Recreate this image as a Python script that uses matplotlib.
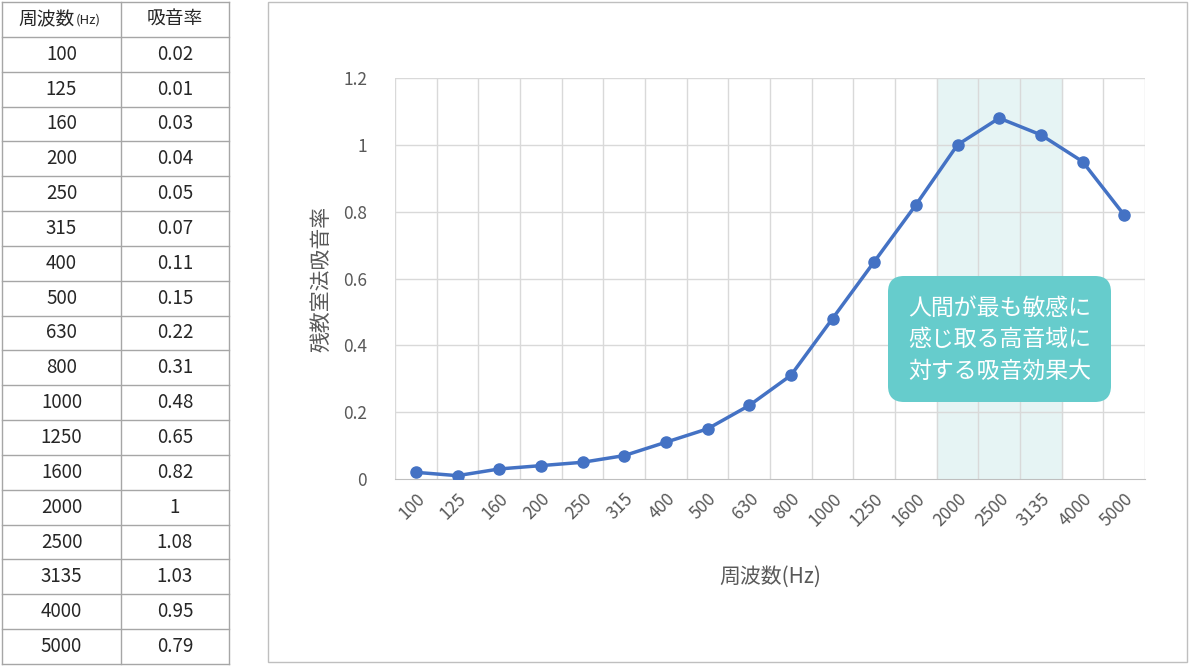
import matplotlib.pyplot as plt
from matplotlib.patches import FancyBboxPatch, Rectangle
import numpy as np

plt.rcParams['font.family'] = ['Noto Sans CJK JP', 'DejaVu Sans']

freqs = ['100', '125', '160', '200', '250', '315', '400', '500', '630', '800',
         '1000', '1250', '1600', '2000', '2500', '3135', '4000', '5000']
absorb = [0.02, 0.01, 0.03, 0.04, 0.05, 0.07, 0.11, 0.15, 0.22, 0.31,
          0.48, 0.65, 0.82, 1.0, 1.08, 1.03, 0.95, 0.79]
absorb_txt = ['0.02', '0.01', '0.03', '0.04', '0.05', '0.07', '0.11', '0.15', '0.22', '0.31',
              '0.48', '0.65', '0.82', '1', '1.08', '1.03', '0.95', '0.79']
yticks = [0, 0.2, 0.4, 0.6, 0.8, 1, 1.2]
ytick_labels = ['0', '0.2', '0.4', '0.6', '0.8', '1', '1.2']
highlight = ['2000', '2500', '3135']
note = '人間が最も敏感に\n感じ取る高音域に\n対する吸音効果大'

W, H = 1200, 670
fig = plt.figure(figsize=(12, 6.7), dpi=100)

#background layer in pixel coordinates for the table and panel border
bg = fig.add_axes([0, 0, 1, 1])
bg.set_xlim(0, W)
bg.set_ylim(H, 0)
bg.axis('off')

#table
tx0, tx1, tx2 = 2, 121, 229
ty0, ty1 = 2, 664
nrows = len(freqs) + 1
rh = (ty1 - ty0) / nrows
grey = '#a6a6a6'
for i in range(nrows + 1):
    bg.plot([tx0, tx2], [ty0 + i * rh] * 2, color=grey, lw=1)
for x in (tx0, tx1, tx2):
    bg.plot([x, x], [ty0, ty1], color=grey, lw=1)
tc = '#262626'
bg.text(tx0 + 16, ty0 + rh / 2, '周波数', ha='left', va='center', fontsize=13.5, color=tc)
bg.text(tx0 + 74, ty0 + rh / 2 + 1, '(Hz)', ha='left', va='center', fontsize=9.5, color=tc)
bg.text((tx1 + tx2) / 2, ty0 + rh / 2, '吸音率', ha='center', va='center', fontsize=13.5, color=tc)
for i, (f, a) in enumerate(zip(freqs, absorb_txt)):
    yc = ty0 + (i + 1.5) * rh
    bg.text((tx0 + tx1) / 2, yc, f, ha='center', va='center', fontsize=13.5, color=tc)
    bg.text((tx1 + tx2) / 2, yc, a, ha='center', va='center', fontsize=13.5, color=tc)

#chart panel border
bg.add_patch(Rectangle((268, 2), 919, 660, fill=False, ec='#bfbfbf', lw=1))

#chart
ax = fig.add_axes([395 / W, 1 - 479 / H, 750 / W, 401 / H])
x = np.arange(len(freqs))
gc = '#d9d9d9'
ax.axvspan(freqs.index(highlight[0]) - 0.5, freqs.index(highlight[-1]) + 0.5,
           color='#e6f4f4', zorder=0)
for b in np.arange(-0.5, len(freqs), 1):
    ax.axvline(b, color=gc, lw=1, zorder=1)
for yv in yticks[1:]:
    ax.axhline(yv, color=gc, lw=1, zorder=1)
ax.plot(x, absorb, color='#4472c4', lw=2.5, marker='o', ms=8, zorder=3)

ax.set_xlim(-0.5, len(freqs) - 0.5)
ax.set_ylim(0, 1.2)
for s in ('top', 'right', 'left'):
    ax.spines[s].set_visible(False)
ax.spines['bottom'].set_color('#bfbfbf')
ax.set_facecolor('none')
ax.set_xticks(x)
ax.set_xticklabels(freqs, rotation=45, ha='right', rotation_mode='anchor')
ax.set_yticks(yticks)
ax.set_yticklabels(ytick_labels)
ax.tick_params(length=0, colors='#595959', labelsize=12.5)
ax.tick_params(axis='y', pad=20)
ax.tick_params(axis='x', pad=8)
ax.set_xlabel('周波数(Hz)', fontsize=15, color='#595959', labelpad=26)
ax.set_ylabel('残教室法吸音率', fontsize=15, color='#595959', labelpad=8)

#note box
bg2 = fig.add_axes([0, 0, 1, 1])
bg2.set_xlim(0, W)
bg2.set_ylim(H, 0)
bg2.axis('off')
box = FancyBboxPatch((888, 276), 223, 126, boxstyle='round,pad=0,rounding_size=16',
                     fc='#66cccc', ec='none', zorder=5)
bg2.add_patch(box)
bg2.text(999.5, 340, note, ha='center', va='center', fontsize=16.5, color='white',
         linespacing=1.45, zorder=6)

plt.savefig('out.png', dpi=100)
